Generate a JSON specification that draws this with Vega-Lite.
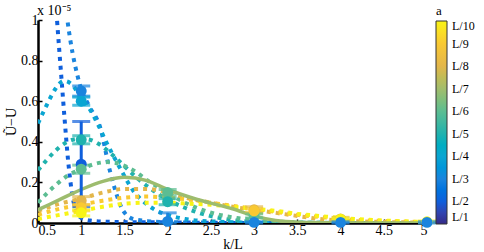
{
  "$schema": "https://vega.github.io/schema/vega-lite/v6.json",
  "width": 389,
  "height": 203,
  "autosize": {"type": "none"},
  "padding": {"left": 38, "top": 20, "right": 57, "bottom": 29},
  "background": "white",
  "title": {"text": "x 10⁻⁵", "anchor": "start", "frame": "group", "font": "Liberation Serif", "fontSize": 14, "fontWeight": "normal", "color": "black", "offset": -4, "dx": -1, "dy": 9},
  "config": {
    "view": {"stroke": null},
    "axis": {"domainColor": "black", "domainWidth": 2.5, "tickColor": "black", "tickWidth": 1.5, "tickSize": -4, "grid": false,
      "labelFont": "Liberation Serif", "labelFontSize": 14, "labelColor": "black", "labelPadding": 4,
      "titleFont": "Liberation Serif", "titleFontSize": 14, "titleFontWeight": "normal", "titleColor": "black"},
    "legend": {"labelFont": "Liberation Serif", "labelFontSize": 12, "labelColor": "black", "titleFont": "Liberation Serif", "titleFontSize": 13, "titleFontWeight": "normal", "titleColor": "black"}
  },
  "datasets": {
    "curves": [
      {"n": 2, "k": 0.5, "v": 2.5}, {"n": 2, "k": 0.6, "v": 1.8}, {"n": 2, "k": 0.72, "v": 1.0}, {"n": 2, "k": 0.77, "v": 0.72}, {"n": 2, "k": 0.81, "v": 0.5}, {"n": 2, "k": 0.85, "v": 0.3}, {"n": 2, "k": 0.9, "v": 0.13}, {"n": 2, "k": 0.95, "v": 0.05}, {"n": 2, "k": 1.0, "v": 0.025}, {"n": 2, "k": 1.1, "v": 0.012}, {"n": 2, "k": 1.3, "v": 0.006}, {"n": 2, "k": 1.6, "v": 0.004}, {"n": 2, "k": 2.0, "v": 0.003}, {"n": 2, "k": 2.5, "v": 0.001}, {"n": 2, "k": 3.0, "v": 0}, {"n": 2, "k": 5.0, "v": 0},
      {"n": 3, "k": 0.5, "v": 2.8}, {"n": 3, "k": 0.7, "v": 1.6}, {"n": 3, "k": 0.84, "v": 1.0}, {"n": 3, "k": 0.96, "v": 0.72}, {"n": 3, "k": 1.0, "v": 0.66}, {"n": 3, "k": 1.1, "v": 0.57}, {"n": 3, "k": 1.22, "v": 0.47}, {"n": 3, "k": 1.33, "v": 0.26}, {"n": 3, "k": 1.48, "v": 0.065}, {"n": 3, "k": 1.6, "v": 0.02}, {"n": 3, "k": 1.8, "v": 0.008}, {"n": 3, "k": 2.0, "v": 0.004}, {"n": 3, "k": 2.5, "v": 0.002}, {"n": 3, "k": 3.0, "v": 0.001}, {"n": 3, "k": 5.0, "v": 0},
      {"n": 4, "k": 0.5, "v": 0.49}, {"n": 4, "k": 0.6, "v": 0.58}, {"n": 4, "k": 0.7, "v": 0.66}, {"n": 4, "k": 0.8, "v": 0.7}, {"n": 4, "k": 0.9, "v": 0.68}, {"n": 4, "k": 1.0, "v": 0.61}, {"n": 4, "k": 1.1, "v": 0.56}, {"n": 4, "k": 1.2, "v": 0.48}, {"n": 4, "k": 1.3, "v": 0.39}, {"n": 4, "k": 1.45, "v": 0.27}, {"n": 4, "k": 1.6, "v": 0.16}, {"n": 4, "k": 1.75, "v": 0.095}, {"n": 4, "k": 1.9, "v": 0.055}, {"n": 4, "k": 2.0, "v": 0.04}, {"n": 4, "k": 2.2, "v": 0.02}, {"n": 4, "k": 2.5, "v": 0.008}, {"n": 4, "k": 3.0, "v": 0.002}, {"n": 4, "k": 5.0, "v": 0},
      {"n": 5, "k": 0.5, "v": 0.26}, {"n": 5, "k": 0.6, "v": 0.31}, {"n": 5, "k": 0.7, "v": 0.355}, {"n": 5, "k": 0.8, "v": 0.39}, {"n": 5, "k": 0.9, "v": 0.41}, {"n": 5, "k": 1.0, "v": 0.415}, {"n": 5, "k": 1.1, "v": 0.41}, {"n": 5, "k": 1.2, "v": 0.39}, {"n": 5, "k": 1.35, "v": 0.34}, {"n": 5, "k": 1.5, "v": 0.28}, {"n": 5, "k": 1.65, "v": 0.22}, {"n": 5, "k": 1.8, "v": 0.17}, {"n": 5, "k": 2.0, "v": 0.115}, {"n": 5, "k": 2.2, "v": 0.075}, {"n": 5, "k": 2.4, "v": 0.045}, {"n": 5, "k": 2.6, "v": 0.025}, {"n": 5, "k": 2.8, "v": 0.012}, {"n": 5, "k": 3.0, "v": 0.006}, {"n": 5, "k": 3.5, "v": 0.001}, {"n": 5, "k": 5.0, "v": 0},
      {"n": 6, "k": 0.5, "v": 0.1}, {"n": 6, "k": 0.6, "v": 0.145}, {"n": 6, "k": 0.7, "v": 0.185}, {"n": 6, "k": 0.85, "v": 0.235}, {"n": 6, "k": 1.0, "v": 0.265}, {"n": 6, "k": 1.15, "v": 0.29}, {"n": 6, "k": 1.3, "v": 0.3}, {"n": 6, "k": 1.45, "v": 0.29}, {"n": 6, "k": 1.6, "v": 0.26}, {"n": 6, "k": 1.8, "v": 0.2}, {"n": 6, "k": 2.0, "v": 0.15}, {"n": 6, "k": 2.2, "v": 0.1}, {"n": 6, "k": 2.4, "v": 0.065}, {"n": 6, "k": 2.6, "v": 0.04}, {"n": 6, "k": 2.8, "v": 0.025}, {"n": 6, "k": 3.0, "v": 0.015}, {"n": 6, "k": 3.3, "v": 0.006}, {"n": 6, "k": 3.6, "v": 0.002}, {"n": 6, "k": 4.0, "v": 0}, {"n": 6, "k": 5.0, "v": 0},
      {"n": 8, "k": 0.5, "v": 0.06}, {"n": 8, "k": 0.75, "v": 0.095}, {"n": 8, "k": 1.0, "v": 0.12}, {"n": 8, "k": 1.25, "v": 0.15}, {"n": 8, "k": 1.5, "v": 0.168}, {"n": 8, "k": 1.75, "v": 0.168}, {"n": 8, "k": 2.0, "v": 0.15}, {"n": 8, "k": 2.25, "v": 0.12}, {"n": 8, "k": 2.5, "v": 0.1}, {"n": 8, "k": 2.75, "v": 0.08}, {"n": 8, "k": 3.0, "v": 0.065}, {"n": 8, "k": 3.25, "v": 0.05}, {"n": 8, "k": 3.5, "v": 0.035}, {"n": 8, "k": 3.75, "v": 0.02}, {"n": 8, "k": 4.0, "v": 0.012}, {"n": 8, "k": 4.5, "v": 0.005}, {"n": 8, "k": 5.0, "v": 0.002},
      {"n": 9, "k": 0.5, "v": 0.04}, {"n": 9, "k": 0.75, "v": 0.07}, {"n": 9, "k": 1.0, "v": 0.09}, {"n": 9, "k": 1.25, "v": 0.11}, {"n": 9, "k": 1.5, "v": 0.125}, {"n": 9, "k": 1.75, "v": 0.13}, {"n": 9, "k": 2.0, "v": 0.125}, {"n": 9, "k": 2.25, "v": 0.115}, {"n": 9, "k": 2.5, "v": 0.1}, {"n": 9, "k": 2.75, "v": 0.085}, {"n": 9, "k": 3.0, "v": 0.07}, {"n": 9, "k": 3.25, "v": 0.055}, {"n": 9, "k": 3.5, "v": 0.04}, {"n": 9, "k": 3.75, "v": 0.03}, {"n": 9, "k": 4.0, "v": 0.02}, {"n": 9, "k": 4.5, "v": 0.01}, {"n": 9, "k": 5.0, "v": 0.004},
      {"n": 10, "k": 0.5, "v": 0.02}, {"n": 10, "k": 0.75, "v": 0.04}, {"n": 10, "k": 1.0, "v": 0.06}, {"n": 10, "k": 1.25, "v": 0.08}, {"n": 10, "k": 1.5, "v": 0.095}, {"n": 10, "k": 1.75, "v": 0.1}, {"n": 10, "k": 2.0, "v": 0.1}, {"n": 10, "k": 2.25, "v": 0.095}, {"n": 10, "k": 2.5, "v": 0.09}, {"n": 10, "k": 2.75, "v": 0.08}, {"n": 10, "k": 3.0, "v": 0.07}, {"n": 10, "k": 3.25, "v": 0.06}, {"n": 10, "k": 3.5, "v": 0.045}, {"n": 10, "k": 3.75, "v": 0.035}, {"n": 10, "k": 4.0, "v": 0.025}, {"n": 10, "k": 4.5, "v": 0.012}, {"n": 10, "k": 5.0, "v": 0.005}
    ],
    "smooth": [
      {"k": 0.5, "v": 0.065}, {"k": 0.75, "v": 0.115}, {"k": 1.0, "v": 0.165}, {"k": 1.25, "v": 0.205}, {"k": 1.5, "v": 0.225}, {"k": 1.75, "v": 0.21}, {"k": 2.0, "v": 0.165}, {"k": 2.25, "v": 0.128}, {"k": 2.5, "v": 0.098}, {"k": 2.75, "v": 0.07}, {"k": 3.0, "v": 0.035}, {"k": 3.25, "v": 0.012}, {"k": 3.5, "v": 0.004}, {"k": 4.0, "v": 0.001}, {"k": 4.5, "v": 0}, {"k": 5.0, "v": 0}
    ],
    "points": [
      {"n": 3, "k": 1, "v": 0.65, "lo": 0.625, "hi": 0.675},
      {"n": 4, "k": 1, "v": 0.6, "lo": 0.58, "hi": 0.62},
      {"n": 5, "k": 1, "v": 0.41, "lo": 0.39, "hi": 0.43},
      {"n": 2, "k": 1, "v": 0.29, "lo": 0.08, "hi": 0.5},
      {"n": 6, "k": 1, "v": 0.265, "lo": 0.245, "hi": 0.285},
      {"n": 8, "k": 1, "v": 0.11, "lo": 0.09, "hi": 0.13},
      {"n": 9, "k": 1, "v": 0.075, "lo": 0.06, "hi": 0.09},
      {"n": 10, "k": 1, "v": 0.05, "lo": 0.035, "hi": 0.065},
      {"n": 6, "k": 2, "v": 0.15, "lo": 0.135, "hi": 0.165},
      {"n": 5, "k": 2, "v": 0.105, "lo": 0.09, "hi": 0.12},
      {"n": 3, "k": 2, "v": 0.008, "lo": 0.0, "hi": 0.05},
      {"n": 6, "k": 3, "v": 0.035, "lo": 0.025, "hi": 0.045},
      {"n": 8, "k": 3, "v": 0.065, "lo": 0.05, "hi": 0.08},
      {"n": 9, "k": 3, "v": 0.06, "lo": 0.05, "hi": 0.07},
      {"n": 3, "k": 3, "v": 0.003, "lo": 0.0, "hi": 0.006},
      {"n": 8, "k": 4, "v": 0.02, "lo": 0.012, "hi": 0.028},
      {"n": 10, "k": 4, "v": 0.018, "lo": 0.012, "hi": 0.024},
      {"n": 3, "k": 4, "v": 0.003, "lo": 0.0, "hi": 0.006},
      {"n": 10, "k": 5, "v": 0.006, "lo": 0.002, "hi": 0.01},
      {"n": 3, "k": 5, "v": 0.003, "lo": 0.0, "hi": 0.006}
    ]
  },
  "encoding": {
    "x": {"field": "k", "type": "quantitative", "title": "k/L",
      "scale": {"domain": [0.5, 5], "nice": false},
      "axis": {"values": [0.5, 1, 1.5, 2, 2.5, 3, 3.5, 4, 4.5, 5], "format": "~g", "titlePadding": 0, "labelFont": "Liberation Serif", "titleFont": "Liberation Serif"}},
    "y": {"field": "v", "type": "quantitative", "title": "Ũ−U",
      "scale": {"domain": [0, 1], "nice": false},
      "axis": {"values": [0, 0.2, 0.4, 0.6, 0.8, 1], "format": "~g", "titlePadding": 2, "labelFont": "Liberation Serif", "titleFont": "Liberation Serif"}}
  },
  "resolve": {"scale": {"color": "independent"}, "legend": {"color": "independent"}},
  "layer": [
    {
      "data": {"name": "curves"},
      "mark": {"type": "line", "clip": true, "strokeWidth": 4, "strokeDash": [4, 5], "strokeCap": "butt", "interpolate": "monotone"},
      "encoding": {
        "detail": {"field": "n", "type": "nominal"},
        "color": {"field": "n", "type": "quantitative", "legend": null,
          "scale": {"domain": [1, 2, 3, 4, 5, 6, 7, 8, 9, 10], "range": ["#352a87", "#0f5fdc", "#1a84de", "#0aa5d2", "#20b2ae", "#5cbd92", "#a2bd6c", "#e3b64a", "#f9c932", "#f8f416"]}}
      }
    },
    {
      "data": {"name": "smooth"},
      "mark": {"type": "line", "clip": true, "strokeWidth": 3.5, "color": "#9dbc6e", "interpolate": "monotone"},
      "encoding": {}
    },
    {
      "data": {"name": "points"},
      "mark": {"type": "errorbar", "ticks": {"size": 18, "thickness": 3}, "thickness": 3},
      "encoding": {
        "y": {"field": "lo", "type": "quantitative"},
        "y2": {"field": "hi"},
        "color": {"field": "n", "type": "quantitative", "legend": null,
          "scale": {"domain": [1, 2, 3, 4, 5, 6, 7, 8, 9, 10], "range": ["#352a87", "#0f5fdc", "#1a84de", "#0aa5d2", "#20b2ae", "#5cbd92", "#a2bd6c", "#e3b64a", "#f9c932", "#f8f416"]}}
      }
    },
    {
      "data": {"name": "points"},
      "mark": {"type": "circle", "size": 120, "opacity": 1},
      "encoding": {
        "color": {"field": "n", "type": "quantitative",
          "scale": {"domain": [1, 2, 3, 4, 5, 6, 7, 8, 9, 10], "range": ["#352a87", "#0f5fdc", "#1a84de", "#0aa5d2", "#20b2ae", "#5cbd92", "#a2bd6c", "#e3b64a", "#f9c932", "#f8f416"]},
          "legend": {"type": "gradient", "orient": "none", "legendX": 398, "legendY": -15, "direction": "vertical", "gradientLength": 203, "gradientThickness": 11,
            "title": "a", "titleAnchor": "start", "titlePadding": 3, "values": [1, 2, 3, 4, 5, 6, 7, 8, 9, 10], "labelExpr": "'L/' + datum.value",
            "labelOffset": 5, "gradientStrokeColor": "#333", "gradientStrokeWidth": 1, "labelOverlap": false,
            "labelFont": "Liberation Serif", "titleFont": "Liberation Serif"}}
      }
    }
  ]
}
